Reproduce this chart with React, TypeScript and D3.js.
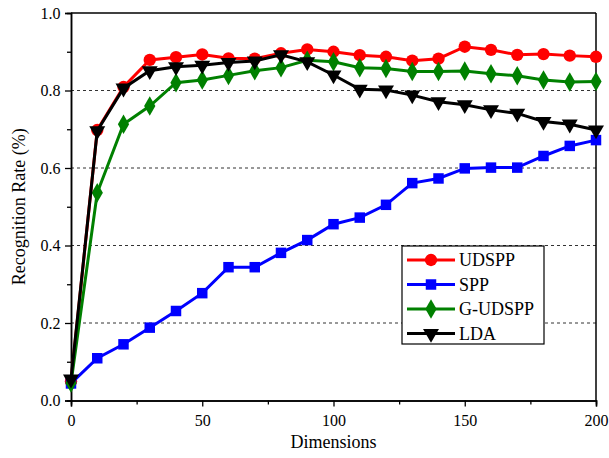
import React, { useRef, useEffect } from "react";
import * as d3 from "d3";

const dims = [0, 10, 20, 30, 40, 50, 60, 70, 80, 90, 100, 110, 120, 130, 140, 150, 160, 170, 180, 190, 200];
const udspp = [0.05, 0.698, 0.809, 0.879, 0.886, 0.893, 0.883, 0.882, 0.896, 0.906, 0.9, 0.891, 0.887, 0.877, 0.882, 0.913, 0.905, 0.892, 0.894, 0.89, 0.887];
const spp = [0.044, 0.109, 0.145, 0.188, 0.231, 0.277, 0.344, 0.344, 0.381, 0.414, 0.455, 0.472, 0.505, 0.561, 0.573, 0.599, 0.601, 0.601, 0.631, 0.657, 0.672];
const gudspp = [0.045, 0.536, 0.713, 0.76, 0.82, 0.827, 0.839, 0.851, 0.859, 0.878, 0.874, 0.859, 0.857, 0.849, 0.849, 0.85, 0.843, 0.838, 0.827, 0.822, 0.823];
const lda = [0.055, 0.696, 0.806, 0.851, 0.861, 0.865, 0.872, 0.876, 0.892, 0.874, 0.84, 0.803, 0.801, 0.788, 0.771, 0.763, 0.75, 0.741, 0.72, 0.713, 0.698];

const seriesNames = ["UDSPP", "SPP", "G-UDSPP", "LDA"];
const seriesValues = [udspp, spp, gudspp, lda];
const seriesColors = ["#ff0000", "#0000ff", "#008000", "#000000"];
const xTicks = [0, 50, 100, 150, 200];
const yTicks = [0, 0.2, 0.4, 0.6, 0.8, 1.0];

const W = 609, H = 458;
const font = "'Liberation Serif', 'Times New Roman', serif";

const symbolFor = (i: number) => {
  if (i === 0) return d3.symbol(d3.symbolCircle, 120);
  if (i === 1) return d3.symbol(d3.symbolSquare, 110);
  if (i === 2) return d3.symbol(d3.symbolDiamond, 110);
  // triangle, rotated later so it points down
  return d3.symbol(d3.symbolTriangle, 110);
};

const Chart = () => {
  const ref = useRef<SVGSVGElement>(null);

  useEffect(() => {
    const svg = d3.select(ref.current);
    svg.selectAll("*").remove();

    const m = { left: 71, right: 596, top: 13, bottom: 400.5 };
    const x = d3.scaleLinear().domain([0, 200]).range([m.left, m.right]);
    const y = d3.scaleLinear().domain([0, 1]).range([m.bottom, m.top]);

    // grid
    svg
      .append("g")
      .selectAll("line")
      .data([0.2, 0.4, 0.6, 0.8])
      .enter()
      .append("line")
      .attr("x1", m.left)
      .attr("x2", m.right)
      .attr("y1", (d) => y(d))
      .attr("y2", (d) => y(d))
      .attr("stroke", "#333")
      .attr("stroke-width", 1)
      .attr("stroke-dasharray", "3,3");

    // axes
    const xAxis = svg
      .append("g")
      .attr("transform", `translate(0,${m.bottom})`)
      .call(d3.axisBottom(x).tickValues(xTicks).tickSize(6).tickFormat(d3.format("d")));
    const xMinor = svg
      .append("g")
      .attr("transform", `translate(0,${m.bottom})`)
      .call(d3.axisBottom(x).tickValues([25, 75, 125, 175]).tickSize(4).tickFormat(() => ""));
    const yAxis = svg
      .append("g")
      .attr("transform", `translate(${m.left},0)`)
      .call(d3.axisLeft(y).tickValues(yTicks).tickSize(6).tickFormat(d3.format(".1f")));
    const yMinor = svg
      .append("g")
      .attr("transform", `translate(${m.left},0)`)
      .call(d3.axisLeft(y).tickValues([0.1, 0.3, 0.5, 0.7, 0.9]).tickSize(4).tickFormat(() => ""));

    [xAxis, xMinor, yAxis, yMinor].forEach((g) => {
      g.select(".domain").attr("stroke", "#000").attr("stroke-width", 1.5);
      g.selectAll(".tick line").attr("stroke", "#000").attr("stroke-width", 1.3);
      g.selectAll("text").attr("font-family", font).attr("font-size", 16).attr("fill", "#000");
    });
    xAxis.selectAll("text").attr("dy", "1.05em");
    yAxis.selectAll("text").attr("dx", "-0.1em");

    // top and right frame
    svg.append("line").attr("x1", m.left).attr("x2", m.right).attr("y1", m.top).attr("y2", m.top)
      .attr("stroke", "#000").attr("stroke-width", 1.5);
    svg.append("line").attr("x1", m.right).attr("x2", m.right).attr("y1", m.top).attr("y2", m.bottom)
      .attr("stroke", "#000").attr("stroke-width", 1.5);

    // series
    seriesValues.forEach((vals, i) => {
      const line = d3.line<number>().x((_, j) => x(dims[j])).y((d) => y(d));
      const g = svg.append("g");
      g.append("path")
        .attr("d", line(vals))
        .attr("fill", "none")
        .attr("stroke", seriesColors[i])
        .attr("stroke-width", 3);
      g.selectAll("path.mk")
        .data(vals)
        .enter()
        .append("path")
        .attr("class", "mk")
        .attr("d", symbolFor(i) as any)
        .attr("transform", (d, j) => `translate(${x(dims[j])},${y(d)})${i === 3 ? " rotate(180)" : ""}`)
        .attr("fill", seriesColors[i]);
    });

    // legend
    const lg = svg.append("g").attr("transform", "translate(402,246)");
    lg.append("rect").attr("width", 142).attr("height", 98).attr("fill", "#fff").attr("stroke", "#000").attr("stroke-width", 1.2);
    seriesNames.forEach((name, i) => {
      const cy = 14 + i * 24.5;
      lg.append("line").attr("x1", 5).attr("x2", 53).attr("y1", cy).attr("y2", cy)
        .attr("stroke", seriesColors[i]).attr("stroke-width", 3);
      lg.append("path")
        .attr("d", symbolFor(i) as any)
        .attr("transform", `translate(29,${cy})${i === 3 ? " rotate(180)" : ""}`)
        .attr("fill", seriesColors[i]);
      lg.append("text")
        .attr("x", 57)
        .attr("y", cy + 6)
        .attr("font-family", font)
        .attr("font-size", 18)
        .text(name);
    });

    // axis titles
    svg.append("text")
      .attr("x", (m.left + m.right) / 2)
      .attr("y", 448)
      .attr("text-anchor", "middle")
      .attr("font-family", font)
      .attr("font-size", 18)
      .text("Dimensions");
    svg.append("text")
      .attr("transform", `translate(25,${(m.top + m.bottom) / 2}) rotate(-90)`)
      .attr("text-anchor", "middle")
      .attr("font-family", font)
      .attr("font-size", 18)
      .text("Recognition Rate (%)");
  }, []);

  return <svg ref={ref} width={W} height={H} style={{ position: "absolute", left: 0, top: 0 }} />;
};

export default function App() {
  return <Chart />;
}
